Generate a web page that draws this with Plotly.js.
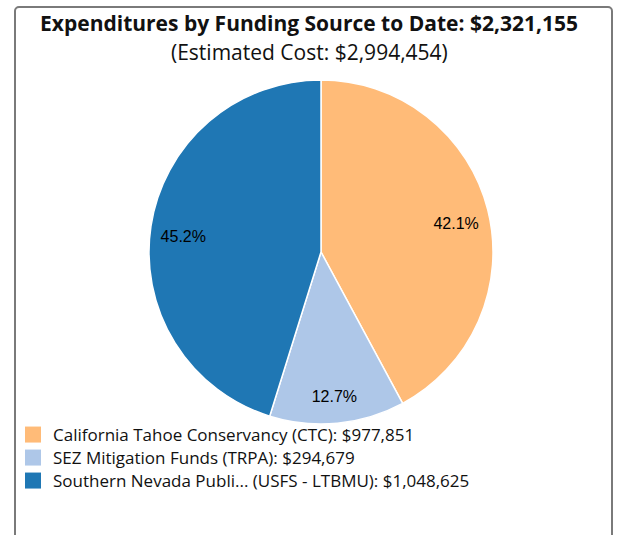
<!DOCTYPE html>
<html><head><meta charset="utf-8">
<script src="https://cdn.plot.ly/plotly-3.0.1.min.js"></script>
<style>
html,body{margin:0;padding:0;overflow:hidden;background:#fff;}
#wrap{position:relative;width:618px;height:535px;}
#chart{position:absolute;left:0;top:0;width:618px;height:535px;}
#frame{position:absolute;left:14px;top:6px;width:595px;height:600px;border:2px solid #7a7a7a;border-radius:5px;pointer-events:none;}
</style></head>
<body><div id="wrap"><div id="chart"></div><div id="frame"></div></div>
<script>
const sources = ["California Tahoe Conservancy (CTC)", "SEZ Mitigation Funds (TRPA)", "Southern Nevada Publi... (USFS - LTBMU)"];
const amounts = [977851, 294679, 1048625];
const colors = ["#ffbb78", "#aec7e8", "#1f77b4"];
const titleText = "Expenditures by Funding Source to Date: $2,321,155";
const subtitleText = "(Estimated Cost: $2,994,454)";

const fmt = v => "$" + v.toLocaleString("en-US");
const legendLabels = sources.map((s, i) => s + ": " + fmt(amounts[i]));
const pieDomain = {x: [149/618, 493/618], y: [111/535, 455/535]};
const labelDomain = {x: [149/618, 493/618], y: [105/535, 449/535]};

// the pie slices
const pieTrace = {
  type: "pie",
  labels: legendLabels,
  values: amounts,
  sort: false,
  direction: "clockwise",
  rotation: 0,
  marker: {colors: colors, line: {color: "#ffffff", width: 1.5}},
  textinfo: "none",
  hoverinfo: "none",
  showlegend: false,
  domain: pieDomain
};

// transparent ring carrying the percentage labels (places them out toward the rim)
const labelTrace = {
  type: "pie",
  labels: legendLabels,
  values: amounts,
  sort: false,
  direction: "clockwise",
  rotation: 0,
  hole: 0.62,
  marker: {colors: colors.map(() => "rgba(0,0,0,0)"), line: {width: 0}},
  texttemplate: "%{percent:.1%}",
  textposition: "inside",
  insidetextorientation: "horizontal",
  insidetextfont: {family: "Liberation Sans, Arial, sans-serif", size: 16, color: "#000000"},
  hoverinfo: "none",
  showlegend: false,
  domain: labelDomain
};

// legend entries (one legend per row so the row spacing matches)
const legendIds = ["legend", "legend2", "legend3"];
const legendTraces = legendLabels.map((name, i) => ({
  type: "scatter", mode: "markers", x: [null], y: [null],
  name: name, legend: legendIds[i], showlegend: true,
  marker: {symbol: "square", size: 16, color: colors[i]},
  hoverinfo: "none"
}));

const rowY = [435, 458, 481];
const legendStyle = y => ({
  x: 13/618, y: 1 - y/535, xanchor: "left", yanchor: "middle",
  font: {family: "Open Sans, sans-serif", size: 17, color: "#111"},
  bgcolor: "rgba(0,0,0,0)", itemsizing: "trace"
});

const layout = {
  width: 618, height: 535,
  margin: {l: 0, r: 0, t: 0, b: 0},
  paper_bgcolor: "#ffffff",
  plot_bgcolor: "rgba(0,0,0,0)",
  font: {family: "Open Sans, sans-serif", color: "#000"},
  xaxis: {visible: false}, yaxis: {visible: false},
  title: {text: "<b>" + titleText + "</b>", font: {family: "Open Sans, sans-serif", size: 21, color: "#111"},
          x: 0.5, xanchor: "center", y: 1 - 24/535, yanchor: "middle", xref: "paper", yref: "container"},
  annotations: [{text: subtitleText, xref: "paper", yref: "paper", x: 0.5, y: 1 - 52/535,
                 xanchor: "center", yanchor: "middle", showarrow: false,
                 font: {family: "Open Sans, sans-serif", size: 21, color: "#111"}}],
  showlegend: true,
  legend: legendStyle(rowY[0]),
  legend2: legendStyle(rowY[1]),
  legend3: legendStyle(rowY[2])
};

Plotly.newPlot("chart", [pieTrace, labelTrace].concat(legendTraces), layout, {displayModeBar: false, staticPlot: true});
</script></body></html>
